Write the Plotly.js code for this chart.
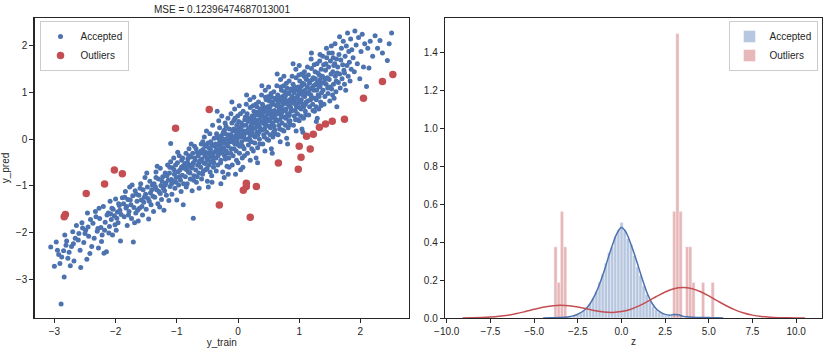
<!DOCTYPE html>
<html><head><meta charset="utf-8">
<script src="https://cdn.plot.ly/plotly-3.0.1.min.js"></script>
<style>html,body{margin:0;padding:0;background:#fff}#chart{width:833px;height:353px}</style>
</head><body><div id="chart"></div>
<script>
// ---- Left panel: y_train vs y_pred ----
const plotTitle = 'MSE = 0.12396474687013001';
const acceptedPoints = [
[-3.06,-2.31],[-3.00,-2.72],[-2.89,-3.53],[-2.91,-2.66],[-2.95,-2.38],[-2.93,-2.47],[-2.97,-2.20],[-2.88,-2.52],
[-2.84,-2.95],[-2.85,-2.39],[-2.80,-2.18],[-2.78,-2.55],[-2.83,-2.05],[-2.72,-2.30],[-2.70,-1.98],[-2.76,-2.42],[-2.66,-2.12],[-2.68,-2.61],[-2.81,-2.27],[-2.64,-1.85],[-2.74,-2.71],[-2.69,-2.24],
[-2.60,-2.02],[-2.58,-2.38],[-2.55,-1.79],[-2.52,-2.21],[-2.49,-1.95],[-2.47,-2.57],[-2.44,-2.08],[-2.41,-1.72],[-2.57,-2.75],[-2.50,-2.02],[-2.46,-1.58],[-2.39,-2.30],[-2.54,-1.90],[-2.42,-2.45],[-2.61,-2.16],[-2.45,-1.88],
[-2.37,-1.80],[-2.35,-2.12],[-2.33,-1.55],[-2.30,-1.97],[-2.28,-2.33],[-2.26,-1.70],[-2.24,-1.89],[-2.22,-2.05],[-2.20,-1.44],[-2.19,-2.44],[-2.17,-1.78],[-2.15,-2.41],[-2.14,-1.62],[-2.29,-1.91],[-2.23,-2.19],[-2.32,-1.66],[-2.18,-1.95],[-2.27,-1.48],
[-2.12,-1.58],[-2.10,-1.87],[-2.09,-1.33],[-2.07,-1.72],[-2.05,-2.05],[-2.04,-1.50],[-2.02,-1.64],[-2.00,-1.28],[-1.99,-1.95],[-1.97,-1.56],[-1.96,-1.79],[-1.94,-1.42],[-1.92,-2.18],[-1.91,-1.61],[-1.89,-1.25],[-2.08,-1.60],[-2.01,-1.83],[-1.95,-1.38],[-2.06,-1.48],[-1.98,-1.69],[-1.93,-1.52],[-2.11,-2.01],
[-1.87,-1.38],[-1.86,-1.66],[-1.84,-1.12],[-1.83,-1.47],[-1.81,-1.85],[-1.80,-1.29],[-1.78,-1.55],[-1.77,-1.02],[-1.75,-1.40],[-1.74,-1.70],[-1.72,-1.21],[-1.71,-2.20],[-1.70,-1.46],[-1.68,-1.10],[-1.67,-1.58],[-1.65,-1.33],[-1.85,-1.24],[-1.79,-1.62],[-1.76,-1.30],[-1.73,-0.98],[-1.69,-1.79],[-1.82,-1.44],[-1.66,-1.18],[-1.64,-1.52],
[-1.62,-1.20],[-1.61,-1.48],[-1.59,-0.95],[-1.58,-1.30],[-1.56,-1.62],[-1.55,-1.08],[-1.54,-1.35],[-1.52,-0.82],[-1.51,-1.18],[-1.50,-1.50],[-1.48,-1.02],[-1.47,-1.27],[-1.46,-1.71],[-1.44,-0.90],[-1.43,-1.15],[-1.42,-1.40],[-1.40,-0.98],[-1.39,-1.22],[-1.60,-1.05],[-1.57,-1.44],[-1.53,-1.24],[-1.49,-0.72],[-1.45,-1.33],[-1.41,-1.08],[-1.38,-1.55],[-1.63,-1.75],
[-1.37,-0.95],[-1.36,-1.24],[-1.34,-0.70],[-1.33,-1.08],[-1.31,-1.38],[-1.30,-0.85],[-1.29,-1.12],[-1.27,-0.62],[-1.26,-0.99],[-1.25,-1.29],[-1.23,-0.80],[-1.22,-1.05],[-1.21,-1.52],[-1.19,-0.72],[-1.18,-0.94],[-1.17,-1.20],[-1.15,-0.55],[-1.14,-0.88],[-1.35,-1.02],[-1.32,-0.58],[-1.28,-1.45],[-1.24,-0.90],[-1.20,-1.10],[-1.16,-0.78],[-1.13,-1.31],[-1.34,-0.82],[-1.27,-1.16],[-1.19,-0.98],
[-1.12,-0.72],[-1.11,-1.01],[-1.10,-0.48],[-1.09,-0.86],[-1.08,-1.18],[-1.07,-0.61],[-1.06,-0.90],[-1.05,-0.40],[-1.04,-0.75],[-1.03,-1.05],[-1.02,-0.55],[-1.01,-0.82],[-1.00,-1.30],[-0.99,-0.50],[-0.98,-0.70],[-0.97,-0.98],[-0.96,-0.35],[-0.95,-0.66],[-0.94,-0.88],[-0.93,-1.12],[-0.92,-0.45],[-0.91,-0.77],[-0.90,-0.58],[-0.89,-0.95],[-0.88,-0.62],[-1.115,-0.60],[-1.085,-0.95],[-1.045,-0.65],[-1.015,-0.92],[-0.985,-0.28],[-0.955,-0.80],[-0.925,-0.60],[-0.895,-1.40],[-0.905,-0.40],[-1.10,-0.09],
[-0.87,-0.52],[-0.86,-0.80],[-0.85,-0.30],[-0.84,-0.65],[-0.83,-0.95],[-0.82,-0.42],[-0.81,-0.70],[-0.80,-0.20],[-0.79,-0.55],[-0.78,-0.85],[-0.77,-0.38],[-0.76,-0.62],[-0.75,-1.10],[-0.74,-0.30],[-0.73,-0.50],[-0.73,-1.69],[-0.72,-0.78],[-0.71,-0.15],[-0.70,-0.45],[-0.69,-0.66],[-0.68,-0.92],[-0.67,-0.28],[-0.66,-0.55],[-0.65,-0.35],[-0.64,-0.72],[-0.63,-0.48],[-0.865,-0.60],[-0.845,-1.02],[-0.825,-0.50],[-0.805,-0.35],[-0.785,-0.72],[-0.765,-0.10],[-0.745,-0.58],[-0.725,-0.88],[-0.705,-0.40],[-0.685,-0.20],[-0.665,-0.80],[-0.645,-0.55],[-0.635,-1.05],[-0.815,-0.58],
[-0.62,-0.30],[-0.61,-0.60],[-0.60,-0.10],[-0.59,-0.42],[-0.58,-0.75],[-0.57,-0.22],[-0.56,-0.50],[-0.55,0.05],[-0.54,-0.35],[-0.53,-0.65],[-0.52,-0.15],[-0.51,-0.40],[-0.50,-0.90],[-0.49,-0.08],[-0.48,-0.30],[-0.47,-0.55],[-0.46,0.12],[-0.45,-0.22],[-0.44,-0.48],[-0.43,-0.78],[-0.42,-0.12],[-0.41,-0.35],[-0.40,-0.60],[-0.39,0.02],[-0.38,-0.28],[-0.615,-0.45],[-0.595,-0.85],[-0.575,-0.05],[-0.555,-0.30],[-0.535,-0.52],[-0.515,0.18],[-0.495,-0.45],[-0.475,-0.18],[-0.455,-0.70],[-0.435,-0.30],[-0.415,0.30],[-0.395,-0.50],[-0.385,-0.15],[-0.605,-0.25],[-0.565,-0.68],[-0.525,-0.28],[-0.485,-1.02],[-0.445,-0.05],[-0.405,-0.42],[-0.545,-0.12],[-0.505,-0.62],[-0.465,-0.38],[-0.425,-0.92],
[-0.37,-0.10],[-0.36,-0.40],[-0.35,0.12],[-0.34,-0.22],[-0.33,-0.55],[-0.32,0.02],[-0.31,-0.30],[-0.30,0.25],[-0.29,-0.12],[-0.28,-0.45],[-0.27,0.08],[-0.26,-0.20],[-0.25,-0.70],[-0.24,0.15],[-0.23,-0.08],[-0.22,-0.35],[-0.21,0.35],[-0.20,0.00],[-0.19,-0.25],[-0.18,-0.58],[-0.17,0.10],[-0.16,-0.15],[-0.15,-0.40],[-0.14,0.22],[-0.13,-0.05],[-0.365,-0.25],[-0.355,-0.68],[-0.345,0.05],[-0.335,-0.12],[-0.325,-0.35],[-0.315,0.40],[-0.305,-0.22],[-0.295,0.05],[-0.285,-0.50],[-0.275,-0.02],[-0.265,0.50],[-0.255,-0.30],[-0.245,0.00],[-0.235,-0.18],[-0.225,-0.82],[-0.215,0.12],[-0.205,-0.42],[-0.195,0.28],[-0.185,-0.10],[-0.175,-0.30],[-0.165,0.45],[-0.155,-0.02],[-0.145,-0.60],[-0.135,0.05],[-0.34,0.60],[-0.28,-0.95],[-0.22,0.20],[-0.16,-0.75],[-0.30,-0.05],
[-0.12,0.10],[-0.11,-0.20],[-0.10,0.35],[-0.09,0.00],[-0.08,-0.35],[-0.07,0.22],[-0.06,-0.08],[-0.05,0.45],[-0.04,0.08],[-0.03,-0.25],[-0.02,0.30],[-0.01,0.02],[0.00,-0.50],[0.01,0.38],[0.02,0.12],[0.03,-0.15],[0.04,0.55],[0.05,0.20],[0.06,-0.05],[0.07,-0.40],[0.08,0.30],[0.09,0.05],[0.10,-0.20],[0.11,0.42],[0.12,0.15],[-0.115,0.55],[-0.105,-0.05],[-0.095,-0.55],[-0.085,0.18],[-0.075,0.02],[-0.065,-0.20],[-0.055,0.65],[-0.045,-0.10],[-0.035,0.20],[-0.025,-0.45],[-0.015,0.15],[-0.005,0.50],[0.005,-0.12],[0.015,0.25],[0.025,-0.30],[0.035,0.05],[0.045,-0.65],[0.055,0.35],[0.065,0.10],[0.075,-0.15],[0.085,0.60],[0.095,0.18],[0.105,-0.35],[0.115,0.00],[-0.10,0.80],[-0.04,-0.75],[0.02,0.72],[0.08,-0.60],[0.12,0.48],[-0.07,0.40],[0.00,0.15],[0.06,0.28],[-0.02,-0.05],[0.10,0.10],[-0.12,-0.30],
[0.13,0.30],[0.14,0.00],[0.15,0.55],[0.16,0.20],[0.17,-0.12],[0.18,0.42],[0.19,0.12],[0.20,0.68],[0.21,0.28],[0.22,-0.05],[0.23,0.50],[0.24,0.22],[0.25,-0.25],[0.26,0.60],[0.27,0.35],[0.28,0.05],[0.29,0.75],[0.30,0.40],[0.31,0.15],[0.32,-0.18],[0.33,0.52],[0.34,0.28],[0.35,0.00],[0.36,0.65],[0.37,0.38],[0.135,0.75],[0.145,0.15],[0.155,-0.30],[0.165,0.38],[0.175,0.22],[0.185,0.02],[0.195,0.85],[0.205,0.10],[0.215,0.45],[0.225,-0.20],[0.235,0.35],[0.245,0.72],[0.255,0.08],[0.265,0.48],[0.275,-0.08],[0.285,0.25],[0.295,-0.40],[0.305,0.58],[0.315,0.32],[0.325,0.10],[0.335,0.80],[0.345,0.42],[0.355,-0.10],[0.365,0.20],[0.14,0.95],[0.20,-0.45],[0.26,0.90],[0.32,-0.50],[0.37,0.60],[0.16,0.45],[0.22,0.30],[0.28,0.55],[0.34,0.15],[0.19,-0.02],[0.25,0.40],[0.31,0.70],[0.36,0.25],[0.23,0.15],[0.29,0.35],
[0.38,0.50],[0.39,0.20],[0.40,0.75],[0.41,0.40],[0.42,0.10],[0.43,0.62],[0.44,0.32],[0.45,0.90],[0.46,0.48],[0.47,0.15],[0.48,0.70],[0.49,0.42],[0.50,-0.02],[0.51,0.82],[0.52,0.55],[0.53,0.25],[0.54,0.98],[0.55,0.60],[0.56,0.35],[0.57,0.05],[0.58,0.75],[0.59,0.50],[0.60,0.20],[0.61,0.88],[0.62,0.58],[0.385,0.95],[0.395,0.35],[0.405,-0.10],[0.415,0.58],[0.425,0.45],[0.435,0.22],[0.445,1.05],[0.455,0.30],[0.465,0.65],[0.475,0.00],[0.485,0.55],[0.495,0.92],[0.505,0.28],[0.515,0.68],[0.525,0.10],[0.535,0.45],[0.545,-0.20],[0.555,0.80],[0.565,0.52],[0.575,0.30],[0.585,1.02],[0.595,0.62],[0.605,0.12],[0.615,0.40],[0.39,1.15],[0.44,-0.25],[0.50,1.12],[0.56,-0.30],[0.62,0.85],[0.41,0.70],[0.47,0.38],[0.53,0.72],[0.59,0.28],[0.43,0.05],[0.49,0.60],[0.55,0.90],[0.61,0.45],[0.46,0.85],[0.52,0.40],[0.58,0.15],[0.40,0.55],
[0.63,0.72],[0.64,0.40],[0.65,0.95],[0.66,0.60],[0.67,0.30],[0.68,0.85],[0.69,0.55],[0.70,1.12],[0.71,0.70],[0.72,0.35],[0.73,0.92],[0.74,0.62],[0.75,0.18],[0.76,1.02],[0.77,0.78],[0.78,0.45],[0.79,1.20],[0.80,0.82],[0.81,0.55],[0.82,0.25],[0.83,0.98],[0.84,0.72],[0.85,0.40],[0.86,1.08],[0.87,0.80],[0.635,1.15],[0.645,0.55],[0.655,0.10],[0.665,0.80],[0.675,0.65],[0.685,0.42],[0.695,1.28],[0.705,0.50],[0.715,0.88],[0.725,0.20],[0.735,0.75],[0.745,1.15],[0.755,0.48],[0.765,0.90],[0.775,0.30],[0.785,0.65],[0.795,0.02],[0.805,1.00],[0.815,0.75],[0.825,0.50],[0.835,1.25],[0.845,0.85],[0.855,0.32],[0.865,0.60],[0.64,1.40],[0.69,-0.05],[0.75,1.35],[0.81,-0.10],[0.87,1.05],[0.66,0.92],[0.72,0.58],[0.78,0.95],[0.84,0.52],[0.68,0.22],[0.74,0.82],[0.80,1.10],[0.86,0.68],[0.71,1.05],[0.77,0.62],[0.83,0.38],[0.65,0.75],
[0.88,0.92],[0.89,0.62],[0.90,1.18],[0.91,0.82],[0.92,0.50],[0.93,1.05],[0.94,0.75],[0.95,1.32],[0.96,0.90],[0.97,0.55],[0.98,1.12],[0.99,0.85],[1.00,0.40],[1.01,1.25],[1.02,0.98],[1.03,0.65],[1.04,1.40],[1.05,1.02],[1.06,0.75],[1.07,0.45],[1.08,1.18],[1.09,0.92],[1.10,0.60],[1.11,1.30],[1.12,1.00],[0.885,1.35],[0.895,0.78],[0.905,0.30],[0.915,1.00],[0.925,0.88],[0.935,0.62],[0.945,1.50],[0.955,0.70],[0.965,1.08],[0.975,0.42],[0.985,0.95],[0.995,1.38],[1.005,0.68],[1.015,1.10],[1.025,0.50],[1.035,0.85],[1.045,0.22],[1.055,1.20],[1.065,0.95],[1.075,0.70],[1.085,1.45],[1.095,1.05],[1.105,0.52],[1.115,0.80],[0.90,1.62],[0.95,0.18],[1.00,1.58],[1.06,0.15],[1.12,1.28],[0.92,1.12],[0.98,0.78],[1.04,1.15],[1.10,0.75],[0.94,0.42],[1.00,1.02],[1.08,1.35],[1.02,0.80],
[1.13,1.12],[1.14,0.82],[1.15,1.38],[1.16,1.00],[1.17,0.70],[1.18,1.25],[1.19,0.95],[1.20,1.52],[1.21,1.10],[1.22,0.75],[1.23,1.32],[1.24,1.05],[1.25,0.60],[1.26,1.45],[1.27,1.18],[1.28,0.85],[1.29,1.62],[1.30,1.22],[1.31,0.95],[1.32,0.65],[1.33,1.38],[1.34,1.12],[1.35,0.80],[1.36,1.50],[1.37,1.20],[1.135,1.55],[1.145,0.98],[1.155,0.52],[1.165,1.20],[1.175,1.08],[1.185,0.85],[1.195,1.72],[1.205,0.90],[1.215,1.28],[1.225,0.62],[1.235,1.15],[1.245,1.60],[1.255,0.88],[1.265,1.30],[1.275,0.70],[1.285,1.05],[1.295,0.45],[1.305,1.42],[1.315,1.15],[1.325,0.92],[1.335,1.68],[1.345,1.28],[1.355,0.72],[1.365,1.00],[1.20,1.85],[1.28,0.38],[1.34,1.82],
[1.38,1.35],[1.39,1.05],[1.40,1.60],[1.41,1.22],[1.42,0.92],[1.43,1.48],[1.44,1.18],[1.45,1.75],[1.46,1.32],[1.47,0.98],[1.48,1.55],[1.49,1.28],[1.50,0.82],[1.51,1.68],[1.52,1.40],[1.53,1.08],[1.54,1.85],[1.55,1.45],[1.56,1.18],[1.57,0.88],[1.58,1.62],[1.59,1.35],[1.60,1.02],[1.61,1.72],[1.62,1.42],[1.385,1.78],[1.405,0.75],[1.425,1.30],[1.445,1.95],[1.465,1.10],[1.485,1.85],[1.505,1.12],[1.525,2.00],[1.545,0.95],[1.565,1.58],[1.585,2.05],[1.605,1.25],[1.615,0.70],[1.435,1.62],[1.555,1.75],
[1.63,1.55],[1.64,1.22],[1.65,1.82],[1.66,1.40],[1.67,1.10],[1.68,1.70],[1.69,1.95],[1.70,1.30],[1.71,1.60],[1.72,2.10],[1.73,1.48],[1.74,1.18],[1.75,1.78],[1.76,1.05],[1.77,2.00],[1.78,1.58],[1.79,2.28],[1.80,1.35],[1.81,1.88],[1.82,1.65],[1.83,1.25],[1.84,2.15],[1.85,1.50],[1.86,1.92],[1.66,2.20],[1.74,1.42],
[1.88,1.75],[1.90,1.45],[1.91,2.32],[1.93,2.02],[1.95,1.62],[1.97,2.18],[1.99,1.30],[2.01,1.88],[2.03,2.25],[2.05,1.55],[2.07,2.05],[2.10,1.13],[2.12,1.95],[2.14,1.53],
[2.16,2.10],[2.20,1.78],[2.24,2.22],[2.28,1.95],[2.32,2.12],[2.36,1.85],
[2.44,1.69],[2.51,2.28],[2.47,2.05]
];
const outlierPoints = [
[2.53,1.39],[2.36,1.24],[2.05,0.88],[1.74,0.43],[1.54,0.385],[1.43,0.33],[1.33,0.26],[1.23,0.11],[1.12,0.064],[1.00,-0.15],
[1.18,-0.21],[1.03,-0.385],[0.985,-0.64],[0.66,-0.51],[0.30,-1.01],[0.136,-0.94],[0.136,-1.01],[0.087,-1.09],[0.20,-1.67],[-0.305,-1.41],
[-0.47,0.64],[-1.02,0.235],[-2.02,-0.66],[-1.89,-0.74],[-2.18,-0.96],[-2.48,-1.16],[-2.82,-1.61],[-2.84,-1.66]
];
const leftXTicks = [-3,-2,-1,0,1,2];
const leftYTicks = [-3,-2,-1,0,1,2];

// ---- Right panel: distribution of z ----
const acceptedBinCenters = [-3.77,-3.59,-3.41,-3.23,-3.05,-2.87,-2.69,-2.51,-2.33,-2.15,-1.97,-1.79,-1.61,-1.43,-1.25,-1.07,-0.89,-0.71,-0.53,-0.35,-0.17,0.01,0.19,0.37,0.55,0.73,0.91,1.09,1.27,1.45,1.63,1.81,1.99,2.17,2.35,2.53,2.71,2.89,3.07,3.25,3.43,3.61,3.79,3.97,4.15,4.33,4.51,4.69,4.87,5.05];
const acceptedDensity = [0.003,0,0.003,0.003,0.006,0.008,0.014,0.019,0.03,0.039,0.058,0.075,0.108,0.14,0.19,0.23,0.29,0.345,0.375,0.43,0.465,0.505,0.46,0.42,0.39,0.33,0.27,0.225,0.17,0.125,0.092,0.062,0.045,0.031,0.022,0.014,0.011,0.017,0.022,0.014,0.008,0.003,0.003,0,0.003,0,0.003,0,0,0.003];
const outlierBinCenters = [-3.772,-3.589,-3.405,-3.221,3.021,3.205,3.389,3.756,3.940,4.123,4.674,5.224];
const outlierDensity = [0.376,0.188,0.563,0.376,0.563,1.502,0.563,0.376,0.376,0.188,0.188,0.188];
const acceptedKdeZ = [-4.48,-4.0,-3.5,-3.0,-2.75,-2.5,-2.25,-2.0,-1.75,-1.5,-1.25,-1.0,-0.75,-0.5,-0.25,0,0.25,0.5,0.75,1.0,1.25,1.5,1.75,2.0,2.25,2.5,2.75,3.0,3.25,3.5,3.75,4.0,4.5,5.0,5.5,5.83];
const acceptedKdeY = [0.0005,0.001,0.002,0.006,0.012,0.02,0.033,0.052,0.082,0.125,0.18,0.245,0.32,0.39,0.448,0.478,0.455,0.40,0.335,0.262,0.19,0.125,0.078,0.048,0.03,0.019,0.015,0.018,0.017,0.01,0.006,0.004,0.003,0.002,0.001,0.0005];
const outlierKdeZ = [-9.1,-8.5,-8,-7.5,-7,-6.5,-6,-5.5,-5,-4.5,-4,-3.5,-3,-2.5,-2,-1.5,-1,-0.5,0,0.5,1,1.5,2,2.5,3,3.5,4,4.5,5,5.5,6,6.5,7,7.5,8,8.5,9,9.5,10,10.5];
const outlierKdeY = [0.0004,0.0011,0.0023,0.0047,0.0087,0.0148,0.0234,0.0341,0.0457,0.0563,0.0639,0.0670,0.0646,0.0578,0.0484,0.0388,0.0318,0.0296,0.0338,0.0452,0.0638,0.0876,0.1134,0.1372,0.1542,0.1610,0.1560,0.1400,0.1167,0.0903,0.0648,0.0430,0.0265,0.0152,0.0080,0.0040,0.0018,0.0008,0.0003,0.0001];
const rightXTicks = [-10,-7.5,-5,-2.5,0,2.5,5,7.5,10];
const rightYTicks = [0,0.2,0.4,0.6,0.8,1.0,1.2,1.4];

const BLUE = '#4c72b0', RED = '#c44e52', INK = '#262626';

const traces = [
  {type:'scatter', mode:'markers', name:'Accepted', x:acceptedPoints.map(p=>p[0]), y:acceptedPoints.map(p=>p[1]),
   marker:{color:BLUE, size:5}, xaxis:'x', yaxis:'y', legend:'legend'},
  {type:'scatter', mode:'markers', name:'Outliers', x:outlierPoints.map(p=>p[0]), y:outlierPoints.map(p=>p[1]),
   marker:{color:RED, size:7.5}, xaxis:'x', yaxis:'y', legend:'legend'},
  {type:'bar', name:'Accepted', x:acceptedBinCenters, y:acceptedDensity, width:0.18,
   marker:{color:'rgba(76,114,176,0.4)', line:{color:'rgba(255,255,255,0.7)', width:0.6}}, xaxis:'x2', yaxis:'y2', legend:'legend2'},
  {type:'scatter', mode:'lines', x:acceptedKdeZ, y:acceptedKdeY, line:{color:BLUE, width:1.5, shape:'spline'}, showlegend:false, xaxis:'x2', yaxis:'y2'},
  {type:'bar', name:'Outliers', x:outlierBinCenters, y:outlierDensity, width:0.1836,
   marker:{color:'rgba(196,78,82,0.4)', line:{color:'rgba(255,255,255,0.7)', width:0.6}}, xaxis:'x2', yaxis:'y2', legend:'legend2'},
  {type:'scatter', mode:'lines', x:outlierKdeZ, y:outlierKdeY, line:{color:RED, width:1.5, shape:'spline'}, showlegend:false, xaxis:'x2', yaxis:'y2'}
];

const ax = {showgrid:false, zeroline:false, showline:true, mirror:true, linecolor:INK, linewidth:1.25,
  ticks:'outside', ticklen:4, tickwidth:1, tickcolor:INK, tickfont:{size:10, color:INK}, automargin:false, fixedrange:true};
const yDom = [1-318/353, 1-18/353];
const legendBase = {yanchor:'top', bordercolor:'#cccccc', borderwidth:1, bgcolor:'rgba(255,255,255,0.8)',
  font:{size:10, color:INK}, itemwidth:30, tracegroupgap:0};

const layout = {
  width:833, height:353, margin:{l:0, r:0, t:0, b:0}, paper_bgcolor:'#fff', plot_bgcolor:'#fff',
  font:{family:'"Liberation Sans", Arial, sans-serif', size:10, color:INK},
  barmode:'overlay', bargap:0, showlegend:true,
  title:{text:plotTitle, x:222/833, xanchor:'center', y:1-9/353, yanchor:'middle', font:{size:10, color:INK}},
  xaxis:Object.assign({}, ax, {domain:[34.5/833, 409/833], range:[-3.325, 2.794], tickvals:leftXTicks, anchor:'y',
    title:{text:'y_train', font:{size:10, color:INK}, standoff:1}}),
  yaxis:Object.assign({}, ax, {domain:yDom, range:[-3.83, 2.60], tickvals:leftYTicks, anchor:'x',
    title:{text:'y_pred', font:{size:10, color:INK}, standoff:6}}),
  xaxis2:Object.assign({}, ax, {domain:[445/833, 822/833], range:[-10.1, 11.48], tickvals:rightXTicks, tickformat:'.1f', anchor:'y2',
    title:{text:'z', font:{size:10, color:INK}, standoff:1}}),
  yaxis2:Object.assign({}, ax, {domain:yDom, range:[0, 1.584], tickvals:rightYTicks, tickformat:'.1f', anchor:'x2'}),
  legend:Object.assign({}, legendBase, {x:39.5/833, xanchor:'left', y:1-21/353}),
  legend2:Object.assign({}, legendBase, {x:817.5/833, xanchor:'right', y:1-21/353})
};

Plotly.newPlot('chart', traces, layout, {displayModeBar:false, staticPlot:true});
</script>
</body></html>
